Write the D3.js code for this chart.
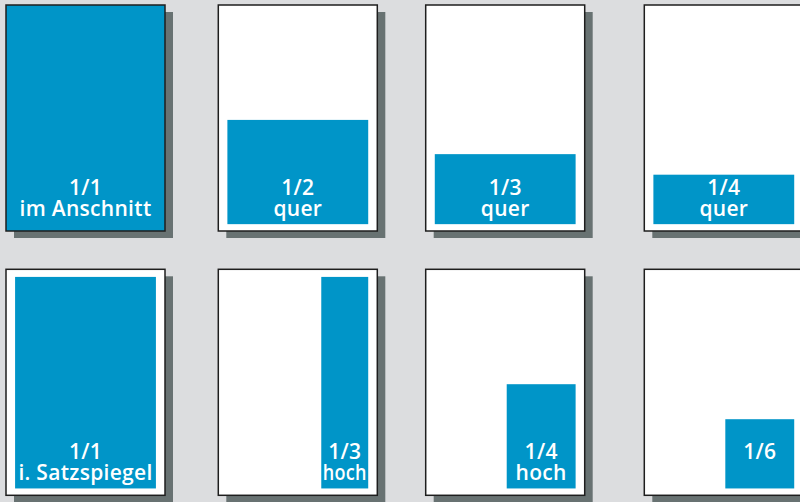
<!DOCTYPE html>
<html>
<head>
<meta charset="utf-8">
<script src="https://cdn.jsdelivr.net/npm/d3@7"></script>
<style>
  html, body { margin: 0; padding: 0; background: #dcdddf; }
  svg { display: block; }
</style>
</head>
<body>
<svg id="chart" width="800" height="502"></svg>
<script>
// ---- Data: ad formats (sizes in mm on an A4 page, 210 x 297) ----
const formatNames   = ["1/1", "1/2", "1/3", "1/4", "1/1", "1/3", "1/4", "1/6"];
const formatSubs    = ["im Anschnitt", "quer", "quer", "quer", "i. Satzspiegel", "hoch", "hoch", ""];
const adWidthMm     = [210, 186, 186, 186, 186, 62, 91, 91];
const adHeightMm    = [297, 137, 92, 65, 278, 278, 137, 91];
const isBleed       = [true, false, false, false, false, false, false, false];
const pageSizeMm    = [210, 297];
const typeAreaMm    = [12, 10, 198, 288]; // x0, y0, x1, y1

// ---- Layout ----
const W = 800, H = 502;
const nCols = 4;
const pageW = 159, pageH = 226;
const colX = d3.scaleOrdinal().domain([0, 1, 2, 3]).range([6, 218.3, 425.7, 644.3]);
const rowY = d3.scaleLinear().domain([0, 1]).range([5, 269.3]);
const mmX = d3.scaleLinear().domain([0, pageSizeMm[0]]).range([0, pageW]);
const mmY = d3.scaleLinear().domain([0, pageSizeMm[1]]).range([0, pageH]);

const blue = "#0095c8";
const shadow = "#687272";

const svg = d3.select("#chart");
svg.append("rect").attr("width", W).attr("height", H).attr("fill", "#dcdddf");

const items = formatNames.map((name, i) => ({
  name, sub: formatSubs[i], w: adWidthMm[i], h: adHeightMm[i], bleed: isBleed[i],
  col: i % nCols, row: Math.floor(i / nCols)
}));

const g = svg.selectAll("g.page").data(items).join("g")
  .attr("class", "page")
  .attr("transform", d => `translate(${colX(d.col)},${rowY(d.row)})`);

// shadow
g.append("rect")
  .attr("x", 8).attr("y", 7)
  .attr("width", pageW).attr("height", pageH)
  .attr("fill", shadow);

// page
g.append("rect")
  .attr("width", pageW).attr("height", pageH)
  .attr("fill", "#fff");

// ad area
g.append("rect")
  .attr("x", d => d.bleed ? 0 : mmX(typeAreaMm[2] - d.w))
  .attr("y", d => d.bleed ? 0 : mmY(typeAreaMm[3] - d.h))
  .attr("width", d => mmX(d.w))
  .attr("height", d => mmY(d.h))
  .attr("fill", blue);

// page border
g.append("rect")
  .attr("width", pageW).attr("height", pageH)
  .attr("fill", "none")
  .attr("stroke", "#1e1e1e")
  .attr("stroke-width", 1.5);

// labels
const cx = d => d.bleed ? pageW / 2 : mmX(typeAreaMm[2] - d.w / 2);
function addLine(sel, y, accessor) {
  const t = sel.append("text")
    .attr("x", cx).attr("y", y)
    .attr("text-anchor", "middle")
    .attr("fill", "#fff")
    .style("font-family", "'Open Sans', sans-serif")
    .style("font-weight", 600)
    .style("font-size", "21px")
    .style("letter-spacing", "0.3px")
    .text(accessor);
  t.each(function(d) {
    const avail = mmX(d.w) - 3;
    const len = this.getComputedTextLength();
    if (len > avail) {
      d3.select(this).attr("textLength", avail).attr("lengthAdjust", "spacingAndGlyphs");
    }
  });
}
addLine(g, 189.5, d => d.name);
addLine(g.filter(d => d.sub), 210.5, d => d.sub);
</script>
</body>
</html>
